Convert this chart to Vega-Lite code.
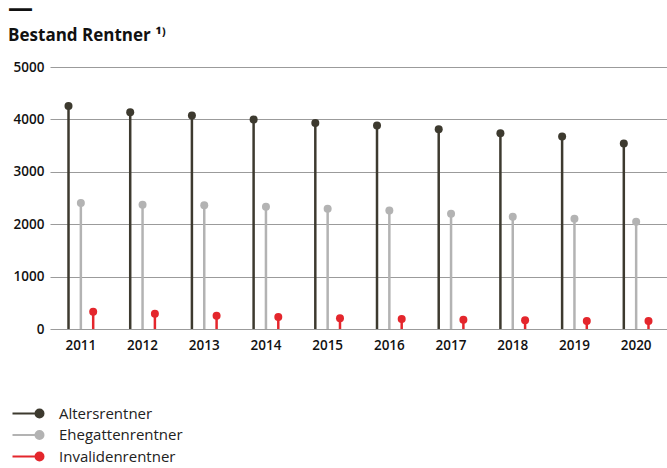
{
  "$schema": "https://vega.github.io/schema/vega-lite/v6.json",
  "width": 617,
  "height": 262,
  "autosize": "none",
  "padding": {"left": 50, "top": 67, "right": 0, "bottom": 139},
  "title": {
    "text": "—",
    "subtitle": "Bestand Rentner ¹⁾",
    "anchor": "start",
    "dx": -5,
    "offset": 16,
    "font": "Open Sans",
    "fontSize": 25,
    "fontWeight": "bold",
    "color": "#111111",
    "subtitleFont": "Open Sans",
    "subtitleFontSize": 17,
    "subtitleFontWeight": "bold",
    "subtitleColor": "#111111",
    "subtitlePadding": 7
  },
  "config": {
    "view": {"stroke": null},
    "axis": {
      "labelFont": "Open Sans",
      "labelFontSize": 13.5,
      "labelFontWeight": 600,
      "labelColor": "#111111",
      "domain": false,
      "ticks": false,
      "title": null
    },
    "legend": {
      "labelFont": "Open Sans",
      "labelFontSize": 15,
      "labelColor": "#222222"
    }
  },
  "data": {
    "values": [
      {"year": "2011", "series": "Altersrentner", "value": 4255},
      {"year": "2012", "series": "Altersrentner", "value": 4135},
      {"year": "2013", "series": "Altersrentner", "value": 4075},
      {"year": "2014", "series": "Altersrentner", "value": 4000},
      {"year": "2015", "series": "Altersrentner", "value": 3930},
      {"year": "2016", "series": "Altersrentner", "value": 3885},
      {"year": "2017", "series": "Altersrentner", "value": 3810},
      {"year": "2018", "series": "Altersrentner", "value": 3735},
      {"year": "2019", "series": "Altersrentner", "value": 3675},
      {"year": "2020", "series": "Altersrentner", "value": 3540},
      {"year": "2011", "series": "Ehegattenrentner", "value": 2405},
      {"year": "2012", "series": "Ehegattenrentner", "value": 2372},
      {"year": "2013", "series": "Ehegattenrentner", "value": 2360},
      {"year": "2014", "series": "Ehegattenrentner", "value": 2335},
      {"year": "2015", "series": "Ehegattenrentner", "value": 2296},
      {"year": "2016", "series": "Ehegattenrentner", "value": 2263},
      {"year": "2017", "series": "Ehegattenrentner", "value": 2200},
      {"year": "2018", "series": "Ehegattenrentner", "value": 2143},
      {"year": "2019", "series": "Ehegattenrentner", "value": 2105},
      {"year": "2020", "series": "Ehegattenrentner", "value": 2048},
      {"year": "2011", "series": "Invalidenrentner", "value": 330},
      {"year": "2012", "series": "Invalidenrentner", "value": 292},
      {"year": "2013", "series": "Invalidenrentner", "value": 254},
      {"year": "2014", "series": "Invalidenrentner", "value": 229},
      {"year": "2015", "series": "Invalidenrentner", "value": 203},
      {"year": "2016", "series": "Invalidenrentner", "value": 190},
      {"year": "2017", "series": "Invalidenrentner", "value": 178},
      {"year": "2018", "series": "Invalidenrentner", "value": 165},
      {"year": "2019", "series": "Invalidenrentner", "value": 152},
      {"year": "2020", "series": "Invalidenrentner", "value": 152}
    ]
  },
  "encoding": {
    "x": {
      "field": "year",
      "type": "ordinal",
      "scale": {"paddingInner": 0, "paddingOuter": 0},
      "axis": {"labelAngle": 0, "labelPadding": 9, "grid": false}
    },
    "xOffset": {
      "field": "series",
      "type": "nominal",
      "scale": {"paddingInner": 0, "paddingOuter": 1.08}
    },
    "y": {
      "field": "value",
      "type": "quantitative",
      "scale": {"domain": [0, 5000], "nice": false},
      "axis": {
        "values": [0, 1000, 2000, 3000, 4000, 5000],
        "format": "d",
        "grid": true,
        "gridColor": "#9b9b9b",
        "gridWidth": 1.2,
        "labelPadding": 6
      }
    },
    "color": {
      "field": "series",
      "type": "nominal",
      "scale": {
        "domain": ["Altersrentner", "Ehegattenrentner", "Invalidenrentner"],
        "range": ["#3d3a2f", "#b3b3b3", "#e4262c"]
      },
      "legend": {
        "title": null,
        "orient": "none",
        "direction": "vertical",
        "legendX": -29,
        "legendY": 339,
        "symbolType": "M-3.2,0L2.2,0M1.4,0A0.8,0.8,0,1,0,3.0,0A0.8,0.8,0,1,0,1.4,0Z",
        "symbolSize": 100,
        "labelOffset": 23,
        "rowPadding": 4.5,
        "encode": {
          "symbols": {
            "update": {
              "fill": {"scale": "color", "field": "value"},
              "stroke": {"scale": "color", "field": "value"},
              "strokeWidth": {"value": 2},
              "opacity": {"value": 1}
            }
          }
        }
      }
    }
  },
  "layer": [
    {
      "mark": {"type": "rule", "strokeWidth": 2.5},
      "encoding": {
        "y2": {"datum": 0}
      }
    },
    {
      "mark": {"type": "point", "filled": true, "opacity": 1, "size": 64}
    }
  ]
}
